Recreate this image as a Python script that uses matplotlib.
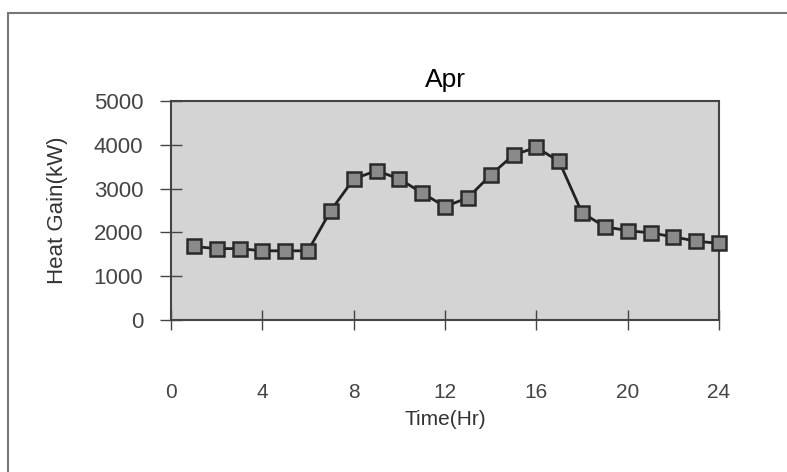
import numpy as np
import matplotlib.pyplot as plt
from matplotlib.patches import Rectangle

plt.rcParams['font.family'] = ['Liberation Sans', 'DejaVu Sans']

# hourly heat gain, April
hours = np.arange(1, 25)
heat_gain = [1680, 1630, 1630, 1580, 1580, 1580, 2500, 3220, 3410, 3220,
             2900, 2590, 2790, 3310, 3770, 3940, 3620, 2450, 2130, 2040,
             1990, 1900, 1800, 1750]
x_ticks = [0, 4, 8, 12, 16, 20, 24]
y_ticks = [0, 1000, 2000, 3000, 4000, 5000]

fig = plt.figure(figsize=(7.87, 4.72), dpi=100)
ax = fig.add_axes([0.2173, 0.322, 0.6963, 0.464])

# outer chart border
fig.patches.append(Rectangle((8 / 787, -0.2), 1.2, 1.2 - 13 / 472,
                             transform=fig.transFigure, fill=False,
                             edgecolor='#777777', linewidth=1.5))

ax.set_facecolor('#d4d4d4')
ax.plot(hours, heat_gain, color='#222222', linewidth=2, marker='s',
        markersize=10, markerfacecolor='#8a8a8a', markeredgecolor='#2a2a2a',
        markeredgewidth=1.8, clip_on=False, zorder=3)

ax.set_xlim(0, 24)
ax.set_ylim(0, 5000)
ax.set_xticks(x_ticks)
ax.set_yticks(y_ticks)
ax.tick_params(axis='x', direction='inout', length=14, width=1, color='#444444',
               pad=38, labelsize=15, labelcolor='#444444')
ax.tick_params(axis='y', direction='inout', length=16, width=1, color='#444444',
               pad=12, labelsize=16, labelcolor='#444444')
for sp in ax.spines.values():
    sp.set_color('#444444')
    sp.set_linewidth(1.5)

ax.set_title('Apr', fontsize=19, pad=10)
ax.set_xlabel('Time(Hr)', fontsize=15, color='#333333', labelpad=6)
ax.set_ylabel('Heat Gain(kW)', fontsize=16, color='#333333')
ax.yaxis.set_label_coords(-0.188, 0.5)

fig.savefig('out.png', dpi=100, facecolor='white')
